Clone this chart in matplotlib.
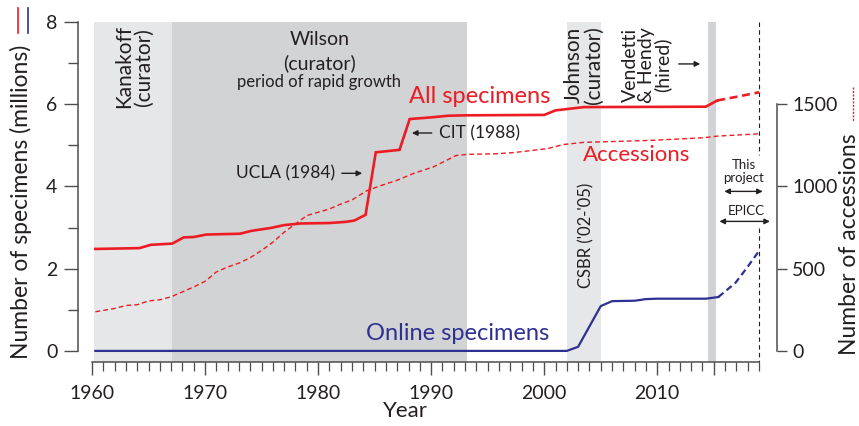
import matplotlib
matplotlib.use("Agg")
import matplotlib.pyplot as plt
from matplotlib.lines import Line2D

plt.rcParams['font.family'] = ['Lato', 'DejaVu Sans']

# ---------------- data ----------------
years_all = [1960.3, 1964.2, 1965.2, 1967.1, 1968.1, 1969.0, 1970.1, 1973.1, 1974.1, 1975.8,
             1977.0, 1978.5, 1981.0, 1982.5, 1983.2, 1984.2, 1985.1, 1987.2, 1988.1, 1990.0,
             1991.5, 1993.0, 2000.0, 2001.0, 2003.5, 2014.3, 2015.3]
all_specimens = [2.48, 2.50, 2.58, 2.61, 2.76, 2.77, 2.83, 2.85, 2.92, 2.99,
                 3.06, 3.10, 3.11, 3.14, 3.17, 3.31, 4.83, 4.89, 5.64, 5.68,
                 5.72, 5.73, 5.74, 5.85, 5.93, 5.94, 6.09]
years_all_proj = [2015.3, 2017.0, 2019.0]
all_proj = [6.09, 6.18, 6.29]

years_acc = [1960.3, 1962, 1963, 1964, 1965, 1966, 1967, 1968, 1969, 1970, 1971, 1972, 1973,
             1974, 1975, 1976, 1977, 1978, 1979, 1980, 1981, 1982, 1983, 1984.3, 1985.5,
             1987, 1988.4, 1990.2, 1992.2, 1993.2, 1995.8, 1997.3, 2000.3, 2001.7, 2003.5,
             2009.4, 2014.1, 2015.3, 2019]
accessions = [238, 258, 276, 281, 304, 311, 329, 359, 389, 423, 480, 510, 534,
              567, 611, 661, 722, 772, 823, 843, 863, 893, 918, 974, 1004,
              1038, 1078, 1119, 1188, 1195, 1199, 1206, 1230, 1255, 1268,
              1280, 1296, 1306, 1320]

years_online = [1960.3, 2002.0, 2003.0, 2005.0, 2006.0, 2008.0, 2009.0, 2010.0, 2014.3, 2015.4]
online = [0.0, 0.0, 0.10, 1.09, 1.21, 1.22, 1.26, 1.27, 1.27, 1.31]
years_online_proj = [2015.4, 2016.9, 2017.9, 2019.0]
online_proj = [1.31, 1.65, 2.01, 2.43]

light_spans = [(1960.2, 1967.1), (2002.0, 2005.0)]
dark_spans = [(1967.1, 1993.2), (2014.5, 2015.2)]

x_major = [1960, 1970, 1980, 1990, 2000, 2010]
x_labels = ['1960', '1970', '1980', '1990', '2000', '2010']
y_major = [0, 2, 4, 6, 8]
acc_ticks = [0, 500, 1000, 1500]

# ---------------- style ----------------
RED = '#ed1c24'
BLUE = '#2e3192'
TXT = '#231f20'
AX = '#4d4d4d'
LIGHT = '#e6e7e8'
DARK = '#d1d3d4'

W, H = 859, 426
fig = plt.figure(figsize=(W / 100, H / 100), dpi=100)
ax = fig.add_axes([92 / W, 1 - 362 / H, 667 / W, 340 / H])
ax.set_xlim(1960, 2019)
ax.set_ylim(-0.27, 8)

for a, b in light_spans:
    ax.axvspan(a, b, color=LIGHT, lw=0, zorder=0)
for a, b in dark_spans:
    ax.axvspan(a, b, color=DARK, lw=0, zorder=0)

ax.plot(years_all, all_specimens, color=RED, lw=1.9, zorder=3, solid_joinstyle='miter')
ax.plot(years_all_proj, all_proj, color=RED, lw=1.9, dashes=(3, 1.8), zorder=3, clip_on=False)
ax.plot(years_online, online, color=BLUE, lw=1.6, zorder=3)
ax.plot(years_online_proj, online_proj, color=BLUE, lw=1.6, dashes=(3, 1.8), zorder=3, clip_on=False)

# vertical dashed line at end
ax.plot([2019, 2019], [8, 4.77], color=TXT, lw=0.8, dashes=(4, 3), clip_on=False, zorder=2)
ax.plot([2019, 2019], [2.99, -0.27], color=TXT, lw=0.8, dashes=(4, 3), clip_on=False, zorder=2)

# axes styling
for s in ['top', 'right']:
    ax.spines[s].set_visible(False)
ax.spines['left'].set_position(('outward', 10))
ax.spines['left'].set_bounds(0, 8)
ax.spines['bottom'].set_bounds(1960, 2019)
for s in ['left', 'bottom']:
    ax.spines[s].set_color(AX)
    ax.spines[s].set_linewidth(1.1)

ax.set_xticks(x_major + [2015])
ax.set_xticklabels(x_labels + [''])
ax.set_xticks(list(range(1960, 2020)), minor=True)
ax.set_yticks(y_major)
ax.set_yticks([1, 3, 5, 7], minor=True)
ax.tick_params(axis='x', which='major', length=9.5, width=1.0, color=AX, labelsize=14,
               labelcolor=TXT, pad=7)
ax.tick_params(axis='x', which='minor', length=6.5, width=0.9, color=AX)
ax.tick_params(axis='y', which='major', length=10, width=1.0, color=AX, labelsize=14,
               labelcolor=TXT, pad=5)
ax.tick_params(axis='y', which='minor', length=7.5, width=1.0, color=AX)

ax2 = ax.twinx()
ax2.set_ylim(-0.27 * 250, 8 * 250)
ax2.plot(years_acc, accessions, color=RED, lw=1.0, dashes=(3.5, 2.2), zorder=3, clip_on=False)
for s in ['top', 'left', 'bottom']:
    ax2.spines[s].set_visible(False)
ax2.spines['right'].set_position(('outward', 13))
ax2.spines['right'].set_bounds(0, 1500)
ax2.spines['right'].set_color(AX)
ax2.spines['right'].set_linewidth(1.1)
ax2.set_yticks(acc_ticks)
ax2.tick_params(axis='y', length=7, width=1.0, color=AX, labelsize=14, labelcolor=TXT, pad=4)

# ---------------- texts ----------------
ax.text(1963.7, 6.91, 'Kanakoff\n(curator)', rotation=90, ha='center', va='center',
        fontsize=15, color=TXT, linespacing=0.95)
ax.text(1980.1, 7.57, 'Wilson', ha='center', va='center', fontsize=14, color=TXT)
ax.text(1980.1, 7.0, '(curator)', ha='center', va='center', fontsize=14, color=TXT)
ax.text(1980.1, 6.55, 'period of rapid growth', ha='center', va='center', fontsize=12, color=TXT)
ax.text(1994.3, 6.03, 'All specimens', ha='center', va='baseline', fontsize=17, color=RED)
ax.text(2008.2, 4.63, 'Accessions', ha='center', va='baseline', fontsize=16, color=RED)
ax.text(1992.3, 0.27, 'Online specimens', ha='center', va='baseline', fontsize=17, color=BLUE)
ax.text(2003.5, 6.96, 'Johnson\n(curator)', rotation=90, ha='center', va='center',
        fontsize=15, color=TXT, linespacing=0.95)
ax.text(2009.05, 6.96, 'Vendetti\n& Hendy\n(hired)', rotation=90, ha='center', va='center',
        fontsize=14, color=TXT, linespacing=0.9)
ax.text(2003.7, 2.80, "CSBR ('02-'05)", rotation=90, ha='center', va='center',
        fontsize=12, color=TXT)
ax.text(2017.67, 4.36, 'This\nproject', ha='center', va='center', fontsize=9.5,
        color=TXT, linespacing=1.1)
ax.text(2017.9, 3.41, 'EPICC', ha='center', va='center', fontsize=9.5, color=TXT)

arrow_kw = dict(arrowstyle='-|>', color=TXT, lw=1.0, mutation_scale=8, shrinkA=0, shrinkB=0)
dbl_kw = dict(arrowstyle='<|-|>', color=TXT, lw=1.0, mutation_scale=8, shrinkA=0, shrinkB=0)
ax.text(1990.7, 5.30, 'CIT (1988)', ha='left', va='center', fontsize=12.5, color=TXT)
ax.annotate('', xy=(1988.3, 5.30), xytext=(1990.05, 5.30), arrowprops=arrow_kw)
ax.text(1981.5, 4.32, 'UCLA (1984)', ha='right', va='center', fontsize=12.5, color=TXT)
ax.annotate('', xy=(1983.9, 4.32), xytext=(1982.1, 4.32), arrowprops=arrow_kw)
ax.annotate('', xy=(2013.8, 6.98), xytext=(2011.9, 6.98), arrowprops=arrow_kw)
ax.annotate('', xy=(2019.33, 3.88), xytext=(2015.93, 3.88), arrowprops=dbl_kw,
            annotation_clip=False)
ax.annotate('', xy=(2019.97, 3.15), xytext=(2015.5, 3.15), arrowprops=dbl_kw,
            annotation_clip=False)

# axis labels
fig.text(405 / W, 1 - 411 / H, 'Year', ha='center', va='center', fontsize=16, color=TXT)
fig.text(21 / W, 1 - 201.5 / H, 'Number of specimens (millions)', rotation=90,
         ha='center', va='center', fontsize=16.5, color=TXT)
fig.text(850 / W, 1 - 244 / H, 'Number of accessions', rotation=90,
         ha='center', va='center', fontsize=16.5, color=TXT)

# colour keys beside axis labels
fig.add_artist(Line2D([18.3 / W, 18.3 / W], [1 - 8.3 / H, 1 - 32.7 / H], color=RED, lw=1.2))
fig.add_artist(Line2D([27.7 / W, 27.7 / W], [1 - 8.3 / H, 1 - 32.7 / H], color=BLUE, lw=1.2))
fig.add_artist(Line2D([853.3 / W, 853.3 / W], [1 - 86.7 / H, 1 - 120.7 / H], color=RED,
                      lw=1.0, dashes=(1.5, 1.0)))

fig.savefig('out.png', dpi=100)
